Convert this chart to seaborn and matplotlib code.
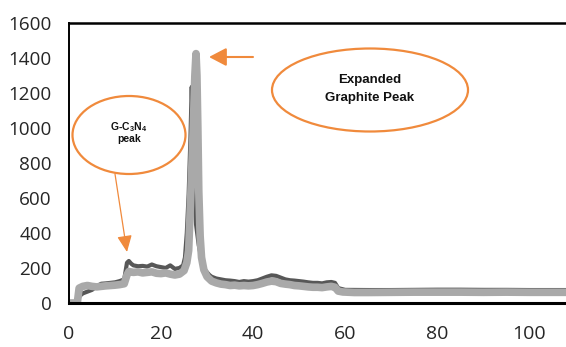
import numpy as np
import pandas as pd
import matplotlib
matplotlib.use("Agg")
import matplotlib.pyplot as plt
import seaborn as sns
from matplotlib.patches import Ellipse, FancyArrowPatch

# ---------------- data ----------------
light_x = [0, 1.8, 2.2, 3, 4, 5, 6, 7, 8, 9, 10, 11, 12, 12.6, 13, 14, 15, 16, 17, 18,
           19, 20, 21, 22, 23, 24, 25, 25.6, 26.0, 26.5, 27.0, 27.35, 27.6, 27.8, 28.0,
           28.2, 28.5, 28.8, 29.3, 30, 31, 32, 33, 34, 35, 36, 37, 38, 39, 40, 41, 42, 43,
           44, 45, 46, 47, 48, 49, 50, 51, 52, 53, 54, 55, 56, 57, 57.8, 58.5, 59.5, 62,
           65, 70, 75, 80, 85, 90, 95, 100, 105, 108]
light_y = [0, 0, 85, 95, 100, 95, 92, 95, 98, 100, 102, 105, 110, 160, 180, 175, 178, 172,
           175, 178, 170, 168, 172, 165, 160, 165, 185, 230, 300, 640, 1000, 1300, 1425,
           1300, 1000, 640, 380, 260, 190, 150, 125, 115, 108, 105, 100, 102, 98, 100, 98,
           100, 105, 112, 120, 125, 122, 112, 108, 105, 100, 98, 95, 92, 90, 90, 88, 92, 95,
           90, 68, 63, 60, 60, 61, 62, 62, 62, 61, 62, 61, 61, 61]

dark_x = [0, 1.8, 2.3, 3, 4, 5, 6, 7, 8, 9, 10, 11, 12, 12.6, 13, 13.5, 14, 15, 16, 17, 18,
          19, 20, 21, 22, 23, 24, 24.8, 25.2, 25.6, 26.0, 26.4, 26.67, 26.9, 27.2, 27.6,
          28.2, 28.8, 29.5, 30.5, 31, 32, 33, 34, 35, 36, 37, 38, 39, 40, 41, 42, 43, 44,
          45, 46, 47, 48, 49, 50, 51, 52, 53, 54, 55, 56, 57, 57.8, 58.5, 60, 65, 70, 75,
          80, 85, 90, 95, 100, 105, 108]
dark_y = [0, 0, 40, 55, 65, 75, 95, 110, 112, 115, 118, 125, 135, 230, 240, 225, 215, 210,
          212, 208, 220, 210, 205, 200, 215, 195, 200, 215, 260, 400, 620, 950, 1235, 1000,
          650, 450, 330, 250, 190, 160, 150, 140, 135, 130, 128, 125, 120, 125, 122, 125,
          130, 140, 150, 158, 155, 145, 135, 130, 128, 125, 122, 118, 115, 115, 112, 118,
          120, 115, 85, 75, 74, 74, 75, 76, 76, 75, 75, 74, 74, 74]

x_ticks = [0, 20, 40, 60, 80, 100]
y_ticks = [0, 200, 400, 600, 800, 1000, 1200, 1400, 1600]

label_gcn = r"G-C$_\mathbf{3}$N$_\mathbf{4}$"
label_peak = "peak"
label_exp1 = "Expanded"
label_exp2 = "Graphite Peak"

# ---------------- style ----------------
sns.set_theme(style="white")
plt.rcParams["font.family"] = ["Open Sans", "DejaVu Sans"]
plt.rcParams["mathtext.fontset"] = "custom"
plt.rcParams["mathtext.bf"] = "Liberation Sans:bold"
plt.rcParams["mathtext.rm"] = "Liberation Sans"

W, H = 566, 347
fig = plt.figure(figsize=(W / 100, H / 100), dpi=100)
ax = fig.add_axes([69 / W, 1 - 303 / H, 1 - 69 / W, (303 - 23) / H])

df_dark = pd.DataFrame({"x": dark_x, "y": dark_y})
df_light = pd.DataFrame({"x": light_x, "y": light_y})
sns.lineplot(data=df_dark, x="x", y="y", ax=ax, color="#575757", lw=3.0,
             estimator=None, sort=False, solid_joinstyle="round")
sns.lineplot(data=df_light, x="x", y="y", ax=ax, color="#a9a9a9", lw=5.5,
             estimator=None, sort=False, solid_joinstyle="round")

ax.set_xlim(0, 108)
ax.set_ylim(0, 1600)
ax.set_xticks(x_ticks)
ax.set_yticks(y_ticks)
ax.set_xlabel("")
ax.set_ylabel("")
ax.tick_params(axis="both", which="both", direction="out", width=1.2,
               color="black", labelcolor="#262626")
ax.tick_params(axis="y", pad=8, length=4.5, labelsize=13.6)
ax.tick_params(axis="x", pad=10, length=6, labelsize=14)
ax.spines["right"].set_visible(False)
ax.spines["left"].set_linewidth(1.4)
ax.spines["bottom"].set_linewidth(2.2)
ax.spines["top"].set_linewidth(1.8)
for s in ["left", "bottom", "top"]:
    ax.spines[s].set_color("black")

orange = "#F08A3C"

def fx(px):
    return px / W

def fy(py):
    return 1 - py / H

# ellipses
fig.patches.append(Ellipse((fx(129), fy(135)), 113 / W, 78 / H, transform=fig.transFigure,
                           fill=False, edgecolor=orange, lw=1.6))
fig.patches.append(Ellipse((fx(370), fy(90)), 196 / W, 83 / H, transform=fig.transFigure,
                           fill=False, edgecolor=orange, lw=1.6))

# arrows
fig.patches.append(FancyArrowPatch((fx(115), fy(174)), (fx(127), fy(252)),
                                   transform=fig.transFigure,
                                   arrowstyle="-|>,head_length=1.0,head_width=0.45",
                                   mutation_scale=10, color=orange, lw=0.9,
                                   shrinkA=0, shrinkB=0))
fig.patches.append(FancyArrowPatch((fx(253), fy(57)), (fx(209), fy(57)),
                                   transform=fig.transFigure,
                                   arrowstyle="-|>,head_length=1.05,head_width=0.55",
                                   mutation_scale=10, color=orange, lw=1.5,
                                   shrinkA=0, shrinkB=0))

# texts
fig.text(fx(129), fy(127), label_gcn, ha="center", va="center", fontsize=7.5,
         fontweight="bold", family=["Liberation Sans", "DejaVu Sans"], color="#111111")
fig.text(fx(129), fy(139), label_peak, ha="center", va="center", fontsize=7.5,
         fontweight="bold", family=["Liberation Sans", "DejaVu Sans"], color="#111111")
fig.text(fx(370), fy(80), label_exp1, ha="center", va="center", fontsize=9.5,
         fontweight="bold", family=["Liberation Sans", "DejaVu Sans"], color="#111111")
fig.text(fx(370), fy(98), label_exp2, ha="center", va="center", fontsize=9.5,
         fontweight="bold", family=["Liberation Sans", "DejaVu Sans"], color="#111111")

fig.savefig("out.png", dpi=100)
